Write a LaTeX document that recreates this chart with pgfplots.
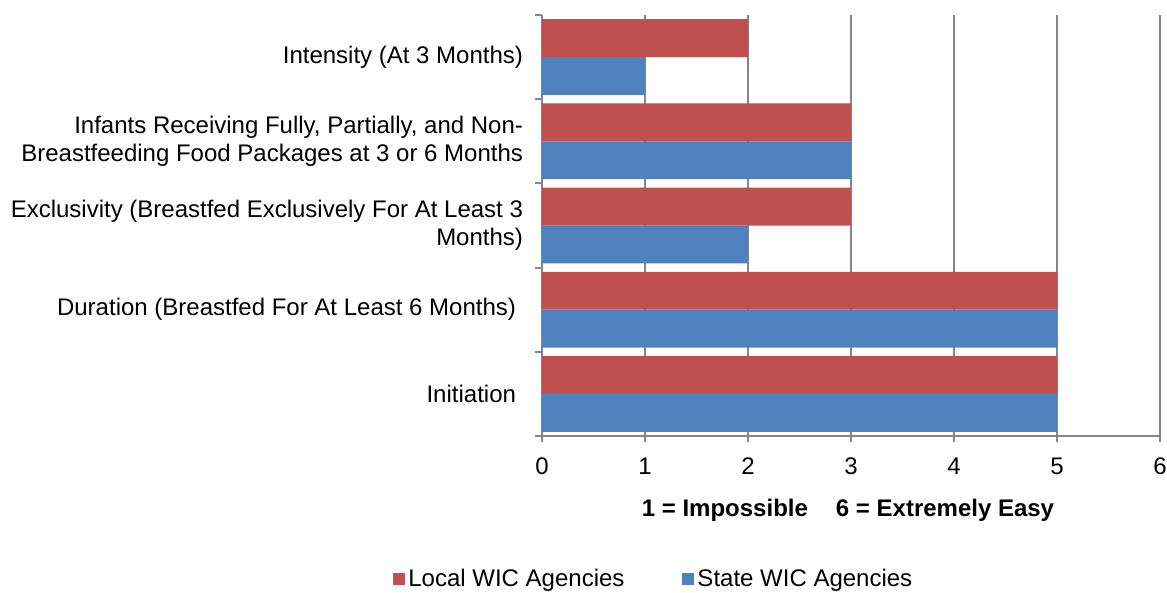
\documentclass[border=0pt]{standalone}
\usepackage{fontspec}
\setmainfont{Liberation Sans}
\usepackage{pgfplots}
\pgfplotsset{compat=1.18}
\definecolor{redbar}{HTML}{C0504D}
\definecolor{bluebar}{HTML}{4F81BD}
\definecolor{gridgray}{HTML}{868686}
\begin{document}
\begin{tikzpicture}[font=\fontsize{12bp}{13.8bp}\selectfont]
\begin{axis}[name=ax, scale only axis, width=309bp, height=210.5bp,
  xbar, bar width=0.45,
  xmin=0, xmax=6, ymin=-0.5, ymax=4.5,
  xtick={0,...,6}, ytick={0,...,4},
  minor ytick={-0.5,0.5,...,4.5},
  yticklabels={{Initiation\kern3.5bp},
               {Duration (Breastfed For At Least 6 Months)\kern3.5bp},
               {Exclusivity (Breastfed Exclusively For At Least 3\\Months)},
               {Infants Receiving Fully, Partially, and Non-\\Breastfeeding Food Packages at 3 or 6 Months},
               {Intensity (At 3 Months)}},
  axis lines=left, axis line style={-, gridgray, line width=1bp},
  tick align=outside,
  major tick length=3bp, minor tick length=3.5bp,
  major y tick style={draw=none},
  minor y tick style={gridgray, line width=1bp},
  major x tick style={gridgray, line width=1bp},
  xmajorgrids, major grid style={gridgray, line width=1bp},
  /pgf/number format/assume math mode=true,
  yticklabel style={align=right, xshift=-3bp},
  xticklabel style={yshift=-4.5bp},
  xlabel={\textbf{1 = Impossible\hspace{14bp}6 = Extremely Easy}},
  xlabel style={at={(axis description cs:0.5,0)}, anchor=center, yshift=-37bp, xshift=-1.5bp},
  legend columns=2,
  legend style={draw=none, fill=none, inner sep=0pt, anchor=west,
    at={(axis description cs:0,0)}, xshift=-74.5bp, yshift=-71.5bp,
    nodes={inner sep=1.5bp},
    /tikz/every even column/.append style={column sep=27.5bp}},
  legend image code/.code={\fill[#1] (0bp,-3bp) rectangle (6bp,3bp);},
]
\addplot[fill=redbar, draw=none, bar shift=0.225] coordinates {(5,0) (5,1) (3,2) (3,3) (2,4)};
\addplot[fill=bluebar, draw=none, bar shift=-0.225] coordinates {(5,0) (5,1) (2,2) (3,3) (1,4)};
\legend{Local WIC Agencies, State WIC Agencies}
\end{axis}
\pgfresetboundingbox
\path ([xshift=-271bp,yshift=-78bp]ax.south west) rectangle ([xshift=3.5bp,yshift=7.5bp]ax.north east);
\end{tikzpicture}
\end{document}
